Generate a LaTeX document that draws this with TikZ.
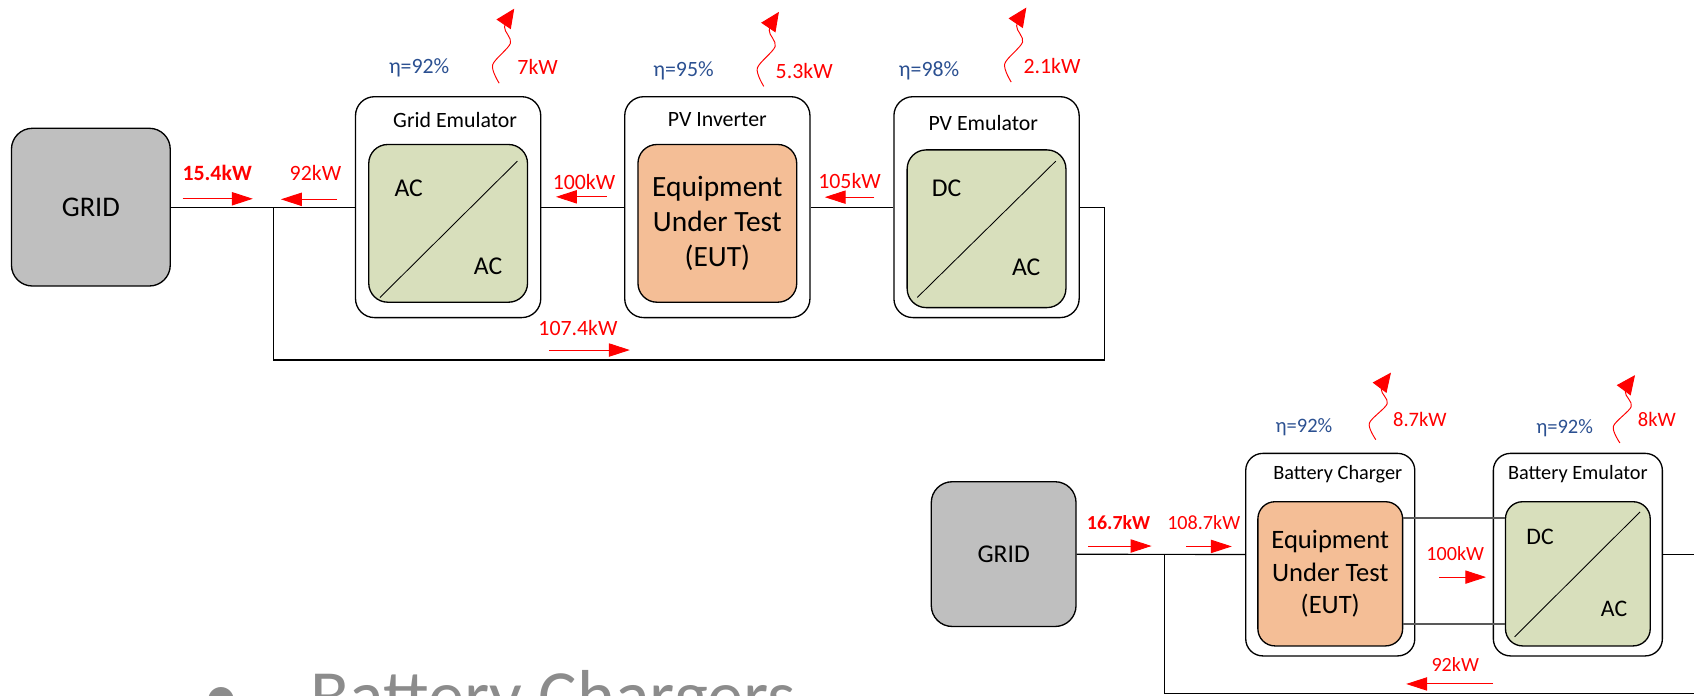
\documentclass[tikz,border=0pt]{standalone}
\usepackage{fontspec}
\setmainfont{Carlito}
\usepackage{tikz}
\usetikzlibrary{arrows.meta,positioning}
\definecolor{gridgray}{HTML}{BFBFBF}
\definecolor{conv}{HTML}{D8DFBC}
\definecolor{eutfill}{HTML}{F4BE96}
\definecolor{effblue}{HTML}{2B5091}
\definecolor{linkgray}{HTML}{595959}
\definecolor{bulletgray}{HTML}{8C8C8C}
\newcommand{\fsz}[1]{\fontsize{#1}{#1}\selectfont}
\tikzset{
  gridbox/.style={draw,rounded corners=11pt,line width=0.7pt,fill=gridgray},
  outer/.style={draw,rounded corners=10pt,line width=0.7pt,fill=white,minimum width=3.43cm,minimum height=4.09cm},
  smallouter/.style={outer,rounded corners=9pt,minimum width=3.13cm,minimum height=3.75cm},
  inner/.style={draw,rounded corners=10pt,line width=0.7pt,minimum width=2.94cm,minimum height=2.92cm},
  smallinner/.style={inner,rounded corners=9pt,minimum width=2.68cm,minimum height=2.67cm},
  eut/.style={fill=eutfill,align=center,font=\fontsize{15.5}{18.4}\selectfont},
  title/.style={font=\fsz{11.5}},
  acdc/.style={font=\fsz{13.5}},
  wire/.style={line width=0.6pt,draw=black},
  link/.style={line width=1pt,draw=linkgray},
  diag/.style={line width=0.45pt},
  kw/.style={text=red,font=\fsz{11.5}},
  kwb/.style={kw,font=\fsz{11.5}\bfseries},
  eff/.style={text=effblue,font=\fsz{11.5}},
  flow/.style={-{Triangle[length=11pt,width=7pt]},draw=red,line width=0.5pt},
  heat/.style={-{Triangle[length=10pt,width=9pt]},draw=red,line width=0.5pt}
}

\begin{document}
\begin{tikzpicture}[x=0.02cm,y=-0.02cm]
 \useasboundingbox (0,0) rectangle (1568,644);
 % PV inverter bench
 \node[gridbox,minimum width=2.94cm,minimum height=2.92cm,font=\fsz{15}] (grid) at (84.1,191.75) {GRID};
 \node[outer] (ge) at (414.8,191.75) {};
 \node[outer,right=1.53cm of ge] (pvi) {};
 \node[outer,right=1.53cm of pvi] (pve) {};
 \node[inner,fill=conv] (gei) at ([yshift=-0.3cm]ge.center) {};
 \node[inner,eut] (pvii) at ([yshift=-0.3cm]pvi.center) {Equipment\\Under Test\\(EUT)};
 \node[inner,fill=conv] (pvei) at ([yshift=-0.4cm]pve.center) {};
 \node[title] (ge-t) at ([xshift=0.13cm,yshift=-0.44cm]ge.north) {Grid Emulator};
 \node[title] (pvi-t) at ([yshift=-0.44cm]pvi.north) {PV Inverter};
 \node[title] (pve-t) at ([xshift=-0.06cm,yshift=-0.49cm]pve.north) {PV Emulator};
 \draw[diag] ([shift={(11,-5)}]gei.south west) -- ([shift={(-10,16)}]gei.north east);
 \node[acdc] (gei-in) at ([shift={(-36.5,-32.7)}]gei.center) {AC};
 \node[acdc] (gei-out) at ([shift={(37,40)}]gei.center) {AC};
 \draw[diag] ([shift={(10,-10)}]pvei.south west) -- ([shift={(-10,11)}]pvei.north east);
 \node[acdc] (pvei-in) at ([shift={(-37,-37.4)}]pvei.center) {DC};
 \node[acdc] (pvei-out) at ([shift={(36.7,35.2)}]pvei.center) {AC};
 \coordinate (j1) at (253.3,191.75);
 \coordinate (r1) at (1022,333.2);
 \draw[wire] (grid) -- (ge);
 \draw[wire] (ge) -- (pvi);
 \draw[wire] (pvi) -- (pve);
 \draw[wire] (j1) |- (r1) |- (pve.east);
 % efficiencies and losses
 \node[eff] (eta1) at (388,62.6) {η=92\%};
 \node[kw] (loss1) at (497.7,61.7) {7kW};
 \node[eff] (eta2) at (632.7,65.7) {η=95\%};
 \node[kw] (loss2) at (744.4,65.7) {5.3kW};
 \node[eff] (eta3) at (860,65.7) {η=98\%};
 \node[kw] (loss3) at (973.8,61) {2.1kW};
 % power flows
 \node[kwb] (f154) at (201,160) {15.4kW};
 \draw[flow] ([shift={(-32,24)}]f154.center) -- ([shift={(33,24)}]f154.center);
 \node[kw] (f92a) at (292,160) {92kW};
 \draw[flow] ([shift={(20,24.5)}]f92a.center) -- ([shift={(-32,24.5)}]f92a.center);
 \node[kw] (f100a) at (540.6,168.2) {100kW};
 \draw[flow] ([shift={(21,14)}]f100a.center) -- ([shift={(-26,14)}]f100a.center);
 \node[kw] (f105) at (786.4,167.5) {105kW};
 \draw[flow] ([shift={(23,15)}]f105.center) -- ([shift={(-23,15)}]f105.center);
 \node[kw] (f1074) at (535,304) {107.4kW};
 \draw[flow] ([shift={(-27,20)}]f1074.center) -- ([shift={(48,20)}]f1074.center);

 % battery charger bench
 \node[gridbox,minimum width=2.68cm,minimum height=2.68cm,font=\fsz{13.5}] (grid2) at (929,512.9) {GRID};
 \node[smallouter] (bc) at (1231.3,513.4) {};
 \node[smallouter,right=1.43cm of bc] (be) {};
 \node[smallinner,eut,font=\fontsize{14}{17}\selectfont] (bci) at ([yshift=-0.355cm]bc.center) {Equipment\\Under Test\\(EUT)};
 \node[smallinner,fill=conv] (bei) at ([yshift=-0.355cm]be.center) {};
 \node[title,font=\fsz{10.7}] (bc-t) at ([xshift=0.14cm,yshift=-0.4cm]bc.north) {Battery Charger};
 \node[title,font=\fsz{10.7}] (be-t) at ([yshift=-0.4cm]be.north) {Battery Emulator};
 \draw[diag] ([shift={(9,-9)}]bei.south west) -- ([shift={(-10,10)}]bei.north east);
 \node[acdc,font=\fsz{12.5}] (bei-in) at ([shift={(-35,-34.5)}]bei.center) {DC};
 \node[acdc,font=\fsz{12.5}] (bei-out) at ([shift={(33.5,32)}]bei.center) {AC};
 \draw[link] ([yshift=1.04cm]bci.east) -- ([yshift=1.04cm]bei.west);
 \draw[link] ([yshift=-0.93cm]bci.east) -- ([yshift=-0.93cm]bei.west);
 \coordinate (j2) at (1077.6,513.1);
 \coordinate (r2) at (1572,641.8);
 \draw[wire] (grid2) -- (bc);
 \draw[wire] (be.east) -| (r2) -| (j2);
 \node[eff,font=\fsz{10.8}] (eta4) at (1207,395.8) {η=92\%};
 \node[kw,font=\fsz{10.8}] (loss4) at (1314.3,388.7) {8.7kW};
 \node[eff,font=\fsz{10.8}] (eta5) at (1448.3,396.5) {η=92\%};
 \node[kw,font=\fsz{10.8}] (loss5) at (1533.6,388.7) {8kW};
 \node[kwb,font=\fsz{10.5}\bfseries] (f167) at (1035.4,483.8) {16.7kW};
 \draw[flow] ([shift={(-28,21.6)}]f167.center) -- ([shift={(30.5,21.6)}]f167.center);
 \node[kw,font=\fsz{10.6}] (f1087) at (1114.2,483.8) {108.7kW};
 \draw[flow] ([shift={(-16.4,22)}]f1087.center) -- ([shift={(26,22)}]f1087.center);
 \node[kw,font=\fsz{10.6}] (f100b) at (1347,512.2) {100kW};
 \draw[flow] ([shift={(-15,22)}]f100b.center) -- ([shift={(28.6,22)}]f100b.center);
 \node[kw,font=\fsz{10.6}] (f92b) at (1347,615.5) {92kW};
 \draw[flow] ([shift={(35,17.6)}]f92b.center) -- ([shift={(-45.4,17.6)}]f92b.center);

 % heat losses
 \foreach \hx/\hy/\hs in {462/77/1, 707/80/1, 936/76/1, 1273.5/407/0.9, 1499.4/410/0.91}
  \draw[heat,shift={(\hx,\hy)},yscale=\hs] plot[smooth] coordinates {(0,0) (-6,-17) (10.5,-37) (5,-52) (14,-69)};

 % slide text below
 \node[anchor=base,inner sep=0,text=bulletgray,font=\fsz{38}] (dot) at (204.6,667) {•};
 \node[anchor=base west,inner sep=0,text=bulletgray,font=\fsz{38}] (bul) at (287,667) {Battery Chargers};
\end{tikzpicture}
\end{document}
